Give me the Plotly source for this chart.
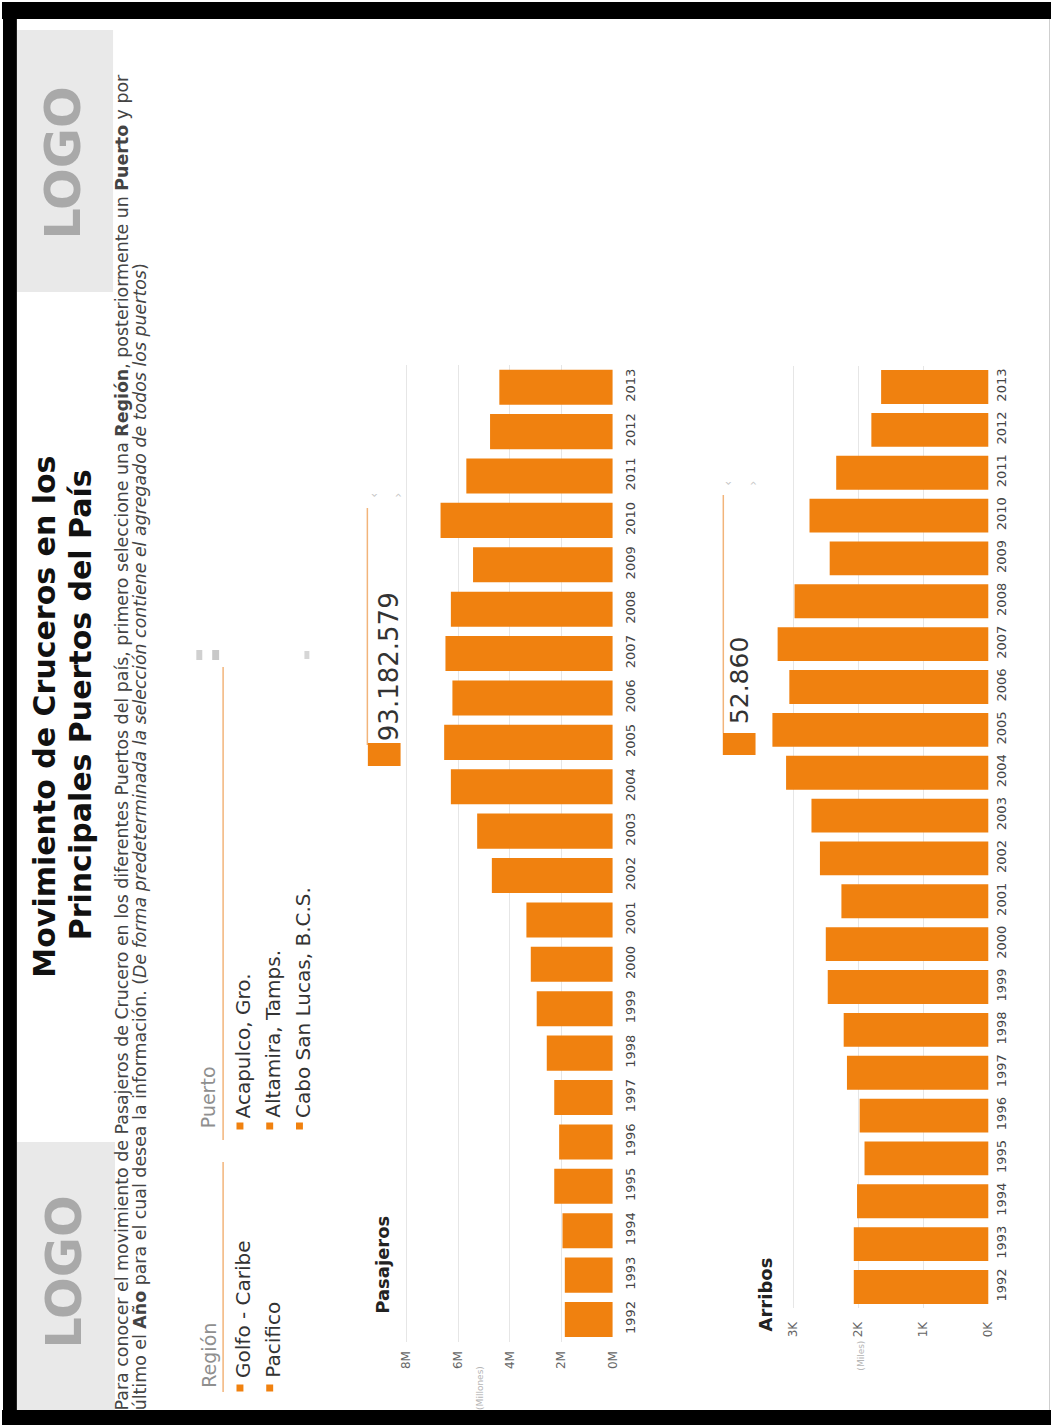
import plotly.graph_objects as go

# ---------------- data ----------------
years = list(range(1992, 2014))
# Pasajeros (millones)
pasajeros = [1.86, 1.86, 1.95, 2.27, 2.08, 2.27, 2.56, 2.95, 3.18, 3.35, 4.69,
             5.26, 6.28, 6.54, 6.22, 6.49, 6.28, 5.42, 6.68, 5.68, 4.76, 4.40]
# Arribos (miles)
arribos = [2.07, 2.07, 2.02, 1.905, 1.98, 2.175, 2.225, 2.47, 2.50, 2.26, 2.59,
           2.72, 3.11, 3.32, 3.06, 3.24, 2.98, 2.44, 2.75, 2.34, 1.80, 1.65]
pas_ticks = [0, 2, 4, 6, 8]
pas_ticktext = ["0M", "2M", "4M", "6M", "8M"]
arr_ticks = [0, 1, 2, 3]
arr_ticktext = ["0K", "1K", "2K", "3K"]
total_pasajeros = "93.182.579"
total_arribos = "52.860"
regiones = ["Golfo - Caribe", "Pacifico"]
puertos = ["Acapulco, Gro.", "Altamira, Tamps.", "Cabo San Lucas, B.C.S."]

# ---------------- helpers ----------------
W, H = 1058, 1425
def px(x):
    return x / W
def py(y):
    return 1 - y / H

ORANGE = "#F0810F"
LINE_OR = "#F2B47A"
FONT = "DejaVu Sans"

fig = go.Figure()
fig.add_trace(go.Bar(y=years, x=pasajeros, orientation="h", width=0.79,
                     marker=dict(color=ORANGE, line=dict(width=0)),
                     xaxis="x", yaxis="y", hoverinfo="x+y"))
fig.add_trace(go.Bar(y=years, x=arribos, orientation="h", width=0.79,
                     marker=dict(color=ORANGE, line=dict(width=0)),
                     xaxis="x2", yaxis="y2", hoverinfo="x+y"))

tickfont_year = dict(family=FONT, size=13, color="#444444")
tickfont_val = dict(family=FONT, size=12, color="#666666")

fig.update_layout(
    width=W, height=H, margin=dict(l=0, r=0, t=0, b=0),
    paper_bgcolor="white", plot_bgcolor="white", showlegend=False,
    bargap=0.2,
    xaxis=dict(domain=[px(402.8), px(616)], range=[8.2, 0], anchor="y",
               tickvals=pas_ticks, ticktext=pas_ticktext, tickangle=-90,
               showgrid=True, gridcolor="#e6e6e6", gridwidth=1, zeroline=False,
               showline=False, ticks="", tickfont=tickfont_val, ticklabelstandoff=6),
    yaxis=dict(domain=[py(1341.7), py(365)], range=[1991.5, 2013.5], anchor="x",
               side="right", tickvals=years, ticktext=[str(y) for y in years],
               tickangle=-90, showgrid=False, zeroline=False, showline=False,
               ticks="", tickfont=tickfont_year, ticklabelstandoff=8),
    xaxis2=dict(domain=[px(765.2), px(995)], range=[3.5, 0], anchor="y2",
                tickvals=arr_ticks, ticktext=arr_ticktext, tickangle=-90,
                showgrid=True, gridcolor="#e6e6e6", gridwidth=1, zeroline=False,
                showline=False, ticks="", tickfont=tickfont_val, ticklabelstandoff=10),
    yaxis2=dict(domain=[py(1308.4), py(365.6)], range=[1991.5, 2013.5], anchor="x2",
                side="right", tickvals=years, ticktext=[str(y) for y in years],
                tickangle=-90, showgrid=False, zeroline=False, showline=False,
                ticks="", tickfont=tickfont_year, ticklabelstandoff=3),
)

shapes = []
def rect(x0, y0, x1, y1, color, layer="below"):
    shapes.append(dict(type="rect", xref="paper", yref="paper",
                       x0=px(x0), x1=px(x1), y0=py(y1), y1=py(y0),
                       fillcolor=color, line=dict(width=0), layer=layer))
def vline(x, y0, y1, color, width=1.5):
    shapes.append(dict(type="line", xref="paper", yref="paper",
                       x0=px(x), x1=px(x), y0=py(y0), y1=py(y1),
                       line=dict(color=color, width=width), layer="above"))

# black frame
rect(0, 2, W, 19, "#000000", "above")
rect(1, 2, 15, H, "#000000", "above")
rect(0, 1410, W, H, "#000000", "above")
vline(1056.5, 19, 1410, "#cfcfcf", 1)

# logos
rect(15, 30, 112, 292, "#e9e9e9")
rect(15, 1142, 114, 1410, "#e9e9e9")

# filter lines
vline(223, 1162, 1392, LINE_OR)
vline(223, 667, 1140, LINE_OR)
# legend squares
for xx, yy in [(240, 1388), (270, 1388), (240, 1126), (270, 1126), (300, 1126)]:
    rect(xx - 3.5, yy - 3.5, xx + 3.5, yy + 3.5, ORANGE, "above")
# slider widgets
vline(368.5, 508, 745, LINE_OR)
rect(369, 743, 402, 766, ORANGE, "above")
vline(727.5, 495, 733, LINE_OR)
rect(727, 733, 760, 755, ORANGE, "above")
# small gray icons
rect(196, 650, 202, 660, "#d0d0d0", "above")
rect(212, 650, 219, 660, "#c8c8c8", "above")
rect(305, 651, 310, 659, "#d6d6d6", "above")

fig.update_layout(shapes=shapes)

ann = []
def text(x, y, s, size, color="#333333", family=FONT, xanchor="center", yanchor="middle"):
    ann.append(dict(x=px(x), y=py(y), xref="paper", yref="paper", text=s,
                    showarrow=False, textangle=-90, xanchor=xanchor, yanchor=yanchor,
                    font=dict(family=family, size=size, color=color)))

# logos text
text(62, 163, "<b>LOGO</b>", 49, "#a9a9a9")
text(63, 1272, "<b>LOGO</b>", 49, "#a9a9a9")

# title
text(42, 717, "<b>Movimiento de Cruceros en los</b>", 30, "#111111")
text(79, 705, "<b>Principales Puertos del País</b>", 30, "#111111")

# instructions
text(121, 1412, "Para conocer el movimiento de Pasajeros de Crucero en los diferentes Puertos del país, "
     "primero seleccione una <b>Región</b>, posteriormente un <b>Puerto</b> y por",
     17.4, "#444444", yanchor="bottom")
text(139, 1412, "último el <b>Año</b> para el cual desea la información. (<i>De forma predeterminada "
     "la selección contiene el agregado de todos los puertos</i>)",
     17.4, "#444444", yanchor="bottom")

# filters
text(208, 1390, "Región", 19, "#8f8f8f", yanchor="bottom")
text(208, 1130, "Puerto", 19, "#8f8f8f", yanchor="bottom")
for i, r in enumerate(regiones):
    text(243 + 30 * i, 1380, r, 20, "#333333", yanchor="bottom")
for i, p in enumerate(puertos):
    text(243 + 30 * i, 1120, p, 20, "#333333", yanchor="bottom")

# chart titles
text(383, 1316, "<b>Pasajeros</b>", 18, "#222222", yanchor="bottom")
text(770, 1333, "<b>Arribos</b>", 18, "#222222", yanchor="bottom")
text(482, 1388, "(Millones)", 9, "#b5b5b5")
text(866, 1356, "(Miles)", 9, "#b5b5b5")

# totals
text(390, 743, total_pasajeros, 26, "#333333", yanchor="bottom")
text(744, 726, total_arribos, 25, "#333333", yanchor="bottom")

# slider arrows
for xx, yy in [(375, 495), (399, 495), (732, 483), (757, 483)]:
    text(xx, yy, "‹" if xx in (375, 732) else "›", 12, "#c4c4c4")

fig.update_layout(annotations=ann)
fig.write_html("out.html")
